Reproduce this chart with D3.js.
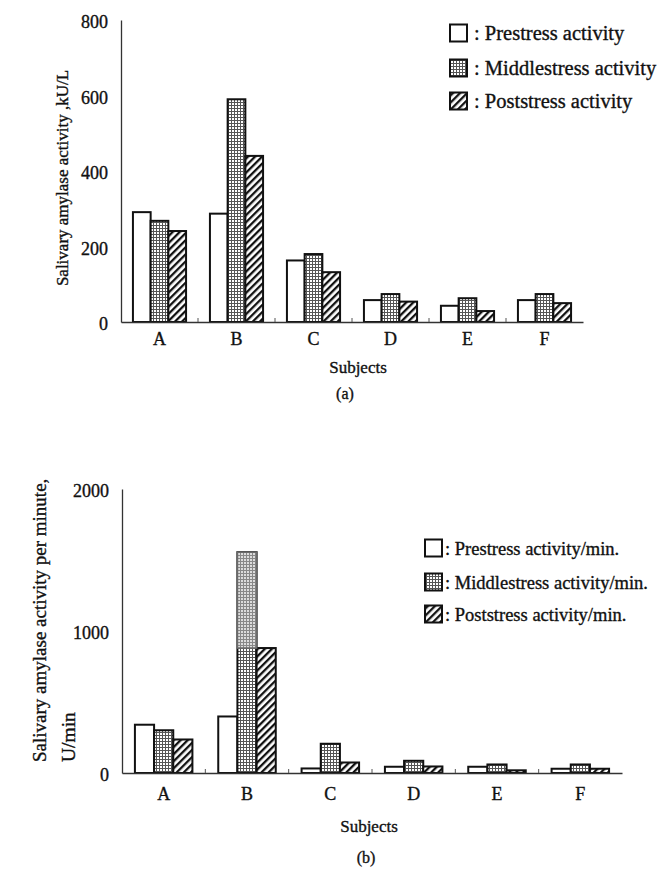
<!DOCTYPE html>
<html>
<head>
<meta charset="utf-8">
<script src="https://cdn.jsdelivr.net/npm/d3@7/dist/d3.min.js"></script>
<style>
  html, body { margin: 0; padding: 0; background: #fff; }
  svg { display: block; }
  text { font-family: "Liberation Serif", "Times New Roman", serif; fill: #111; stroke: #111; stroke-width: 0.35px; }
</style>
</head>
<body>
<svg id="chart" width="660" height="871"></svg>
<script>
// ---------- data ----------
const subjects = ["A", "B", "C", "D", "E", "F"];
const seriesKeys = ["pre", "mid", "post"];

// (a) Salivary amylase activity, kU/L
const preA  = [291, 287, 163, 58, 43, 58];
const midA  = [268, 590, 180, 74, 63, 74];
const postA = [241, 440, 132, 54, 29, 50];
const legendA = [": Prestress activity", ": Middlestress activity", ": Poststress activity"];
const ticksA = [0, 200, 400, 600, 800];

// (b) Salivary amylase activity per minute, U/min
const preB  = [340, 398, 32, 44, 44, 30];
const midB  = [301, 1555, 206, 86, 60, 60];
const postB = [236, 880, 74, 46, 19, 30];
const legendB = [": Prestress activity/min.", ": Middlestress activity/min.", ": Poststress activity/min."];
const ticksB = [0, 1000, 2000];
// faded (lighter) upper part of the B middlestress bar in panel (b)
const fadedB = [{ subject: "B", from: 880 }];

// ---------- drawing ----------
const svg = d3.select("#chart");
svg.append("rect").attr("width", 660).attr("height", 871).attr("fill", "#fff");

const defs = svg.append("defs");
// dotted pattern
const dot = defs.append("pattern").attr("id", "dots").attr("patternUnits", "userSpaceOnUse")
  .attr("width", 3).attr("height", 3);
dot.append("rect").attr("width", 3).attr("height", 3).attr("fill", "#fff");
dot.append("rect").attr("width", 3).attr("height", 1).attr("fill", "#555");
dot.append("rect").attr("width", 1).attr("height", 3).attr("fill", "#555");
// faded dotted pattern
const dotF = defs.append("pattern").attr("id", "dotsFaded").attr("patternUnits", "userSpaceOnUse")
  .attr("width", 3).attr("height", 3);
dotF.append("rect").attr("width", 3).attr("height", 3).attr("fill", "#dcdcdc");
dotF.append("rect").attr("width", 3).attr("height", 1).attr("fill", "#888");
dotF.append("rect").attr("width", 1).attr("height", 3).attr("fill", "#888");
// hatch pattern
const hatch = defs.append("pattern").attr("id", "hatch").attr("patternUnits", "userSpaceOnUse")
  .attr("width", 5).attr("height", 5).attr("patternTransform", "rotate(45)");
hatch.append("rect").attr("width", 5).attr("height", 5).attr("fill", "#fff");
hatch.append("rect").attr("width", 2.3).attr("height", 5).attr("fill", "#111");

const fills = { pre: "#fff", mid: "url(#dots)", post: "url(#hatch)" };
const FONT = '"Liberation Serif", "Times New Roman", serif';

function panel(cfg) {
  const g = svg.append("g");
  const x = d3.scaleBand().domain(subjects).range([cfg.x0, cfg.x1])
    .paddingInner(0.31).paddingOuter(0.155);
  const xs = d3.scaleBand().domain(seriesKeys).range([0, x.bandwidth()]);
  const y = d3.scaleLinear().domain([0, cfg.max]).range([cfg.y0, cfg.yTop]);

  const rows = subjects.map((s, i) => ({ s, pre: cfg.pre[i], mid: cfg.mid[i], post: cfg.post[i] }));

  // bars
  rows.forEach(r => {
    seriesKeys.forEach(k => {
      g.append("rect")
        .attr("x", x(r.s) + xs(k))
        .attr("y", y(r[k]))
        .attr("width", xs.bandwidth())
        .attr("height", y(0) - y(r[k]))
        .attr("fill", fills[k])
        .attr("stroke", "#111")
        .attr("stroke-width", 2);
    });
  });

  // faded segments
  (cfg.faded || []).forEach(f => {
    const r = rows.find(d => d.s === f.subject);
    g.append("rect")
      .attr("x", x(f.subject) + xs("mid"))
      .attr("y", y(r.mid))
      .attr("width", xs.bandwidth())
      .attr("height", y(f.from) - y(r.mid))
      .attr("fill", "url(#dotsFaded)")
      .attr("stroke", "#6a6a6a")
      .attr("stroke-width", 1.6);
  });

  // y axis
  const ya = g.append("g").attr("transform", `translate(${cfg.x0},0)`)
    .call(d3.axisLeft(y).tickValues(cfg.ticks).tickSize(0).tickPadding(13).tickFormat(d3.format("d")));
  ya.select(".domain").attr("stroke", "#333").attr("stroke-width", 1.3);
  ya.selectAll("text").attr("font-size", 18).attr("dy", "0.42em")
    .style("font-family", FONT).attr("fill", "#111");

  // x axis
  const xa = g.append("g").attr("transform", `translate(0,${cfg.y0})`)
    .call(d3.axisBottom(x).tickSize(0).tickPadding(cfg.xLabelPad));
  xa.select(".domain").attr("stroke", "#333").attr("stroke-width", 1.3);
  xa.selectAll("text").attr("font-size", 18)
    .style("font-family", FONT).attr("fill", "#111");
  // small inward ticks at group boundaries
  subjects.slice(1).forEach(s => {
    const bx = x(s) - x.step() * x.paddingInner() / 2;
    g.append("line").attr("x1", bx).attr("x2", bx).attr("y1", cfg.y0).attr("y2", cfg.y0 - 4)
      .attr("stroke", "#555").attr("stroke-width", 1);
  });

  // x title and panel label
  g.append("text").attr("x", cfg.subjX).attr("y", cfg.subjY).attr("text-anchor", "middle")
    .attr("font-size", 17).text("Subjects");
  g.append("text").attr("x", cfg.tagX).attr("y", cfg.tagY).attr("text-anchor", "middle")
    .attr("font-size", 16).text(cfg.tag);

  // legend
  const lg = g.append("g");
  seriesKeys.forEach((k, i) => {
    const cy = cfg.legY[i];
    lg.append("rect").attr("x", cfg.legX).attr("y", cy - 8.5).attr("width", 17).attr("height", 17)
      .attr("fill", fills[k]).attr("stroke", "#111").attr("stroke-width", 2);
    lg.append("text").attr("x", cfg.legX + cfg.legGap).attr("y", cy + 6.5).attr("font-size", cfg.legFont)
      .text(cfg.legend[i]);
  });
  return g;
}

panel({
  x0: 121, x1: 583, y0: 322, yTop: 20, max: 800,
  pre: preA, mid: midA, post: postA, ticks: ticksA,
  xLabelPad: 10,
  subjX: 358, subjY: 373, tagX: 345, tagY: 399, tag: "(a)",
  legX: 450, legGap: 24, legFont: 20.5, legY: [33, 68, 101], legend: legendA
});

panel({
  x0: 122, x1: 622, y0: 773, yTop: 489, max: 2000,
  pre: preB, mid: midB, post: postB, ticks: ticksB, faded: fadedB,
  xLabelPad: 14,
  subjX: 369, subjY: 832, tagX: 366, tagY: 863, tag: "(b)",
  legX: 425, legGap: 20, legFont: 18.5, legY: [548, 582, 614], legend: legendB
});

// y-axis titles
svg.append("text").attr("transform", "translate(68,178) rotate(-90)").attr("text-anchor", "middle")
  .attr("font-size", 17).text("Salivary amylase activity ,kU/L");
svg.append("text").attr("transform", "translate(46,762) rotate(-90)").attr("text-anchor", "start")
  .attr("font-size", 19).text("Salivary amylase activity per minute,");
svg.append("text").attr("transform", "translate(75,762) rotate(-90)").attr("text-anchor", "start")
  .attr("font-size", 19.5).text("U/min");
</script>
</body>
</html>
